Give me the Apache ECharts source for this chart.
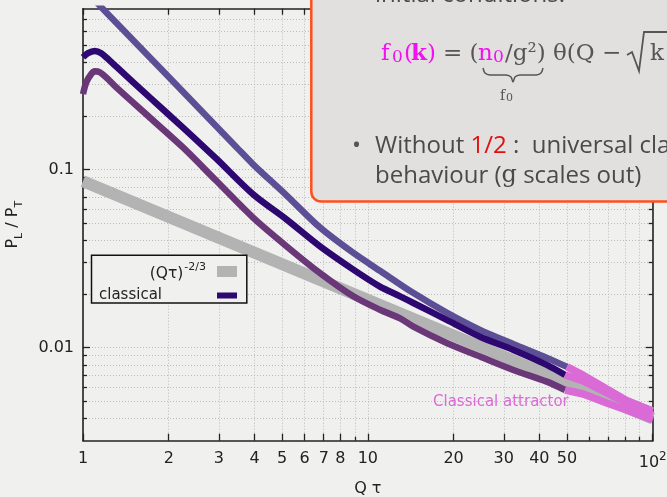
<!DOCTYPE html>
<html><head><meta charset="utf-8">
<script src="https://cdn.jsdelivr.net/npm/echarts@6/dist/echarts.min.js"></script>
<style>html,body{margin:0;padding:0;background:#f0f0ef;overflow:hidden}#c{width:667px;height:497px}</style>
</head><body><div id="c"></div>
<script>
// ---- axis ticks / labels ----
const xMajorTicks = [1, 2, 3, 4, 5, 6, 7, 8, 10, 20, 30, 40, 50, 100];
const xMinorTicks = [9, 60, 70, 80, 90];
const xTickLabels = [1, 2, 3, 4, 5, 6, 7, 8, 10, 20, 30, 40, 50, 100];
const yMajorTicks = [0.01, 0.1];
const yMinorTicks = [0.004, 0.005, 0.006, 0.007, 0.008, 0.009,
  0.02, 0.03, 0.04, 0.05, 0.06, 0.07, 0.08, 0.09,
  0.2, 0.3, 0.4, 0.5, 0.6, 0.7];
const yTickLabels = [0.01, 0.1];

// ---- series data ----
const powerLawX = [1, 100];
const powerLawY = [0.086, 0.0040];

const upperX = [1.102, 1.175, 2.016, 3.465, 3.954, 5.191, 6.795, 8.872, 11.03, 14.41, 18.97, 24.77, 32.35, 42.57, 50.05];
const upperY = [0.889, 0.798, 0.327, 0.133, 0.107, 0.0714, 0.0472, 0.0341, 0.0270, 0.0203, 0.01568, 0.01258, 0.01049, 0.00875, 0.00779];

const classicalX = [1, 1.041, 1.099, 1.159, 1.241, 1.309, 1.715, 2.244, 2.938, 3.954, 5.191, 6.795, 8.894, 11.03, 12.98, 14.45, 18.92, 24.77, 32.43, 42.47, 49.25];
const classicalY = [0.427, 0.450, 0.463, 0.450, 0.409, 0.378, 0.254, 0.172, 0.115, 0.0726, 0.0523, 0.0370, 0.0274, 0.0220, 0.0194, 0.0178, 0.0143, 0.0115, 0.0097, 0.0080, 0.00702];

const lowerX = [1, 1.027, 1.069, 1.099, 1.145, 1.224, 1.309, 1.715, 2.244, 2.938, 3.963, 5.191, 6.795, 8.894, 11.03, 12.98, 14.45, 18.92, 24.77, 32.43, 42.47, 49.25];
const lowerY = [0.265, 0.309, 0.344, 0.356, 0.352, 0.322, 0.289, 0.196, 0.133, 0.0864, 0.0535, 0.0370, 0.0262, 0.0194, 0.0163, 0.0146, 0.0131, 0.0106, 0.0089, 0.00749, 0.00644, 0.00578];

const attractorUpperX = [50.05, 57, 69, 81, 100];
const attractorUpperY = [0.00779, 0.00700, 0.00585, 0.00505, 0.00440];
const attractorMidX = [49.25, 57, 69, 81, 100];
const attractorMidY = [0.00702, 0.00649, 0.00556, 0.00489, 0.00418];
const attractorLowX = [49.25, 57, 69, 81, 100];
const attractorLowY = [0.00578, 0.00549, 0.00489, 0.00446, 0.00392];

const zip = (xs, ys) => xs.map((x, i) => [x, ys[i]]);

const FONT = 'DejaVu Sans';
const AX = '#222';
const GRID = { show: true, lineStyle: { color: '#bcbcbc', width: 1, type: [1, 2] } };

function xAx(pos, ticks, len, opts) {
  return Object.assign({
    type: 'log', logBase: 10, min: 1, max: 100, position: pos,
    axisLine: { show: false },
    axisTick: { show: true, inside: true, length: len, customValues: ticks, lineStyle: { color: AX, width: 1.3 } },
    axisLabel: { show: false },
    splitLine: { show: false },
    minorTick: { show: false }, minorSplitLine: { show: false }
  }, opts || {});
}
function yAx(pos, ticks, len, opts) {
  return Object.assign({
    type: 'log', logBase: 10, min: 0.003, max: 0.8, position: pos,
    axisLine: { show: false },
    axisTick: { show: true, inside: true, length: len, customValues: ticks, lineStyle: { color: AX, width: 1.3 } },
    axisLabel: { show: false },
    splitLine: { show: false },
    minorTick: { show: false }, minorSplitLine: { show: false }
  }, opts || {});
}

const chart = echarts.init(document.getElementById('c'), null, { renderer: 'canvas' });

const MAG = '#f010f0';
const GR = '#555';
const T = (x, y, text, fill, font, extra) => ({ type: 'text', z: 21, x: x, y: y,
  style: Object.assign({ text: text, fill: fill, font: font, verticalAlign: 'middle' }, extra || {}) });

const option = {
  backgroundColor: '#f0f0ef',
  animation: false,
  grid: { left: 83, right: 14.3, top: 8.7, bottom: 56.3, show: false, containLabel: false, outerBoundsMode: 'none' },
  xAxis: [
    xAx('bottom', xMajorTicks, 7, {
      axisLine: { show: true, onZero: false, lineStyle: { color: AX, width: 1.6 } },
      axisLabel: {
        show: true, customValues: xTickLabels, margin: 10.5, fontFamily: FONT, fontSize: 16, color: AX,
        formatter: v => Math.round(v) === 100 ? '{n|10}{s|2}' : String(Math.round(v)),
        rich: { n: { fontFamily: FONT, fontSize: 16, color: AX, lineHeight: 20, verticalAlign: 'bottom' },
                s: { fontFamily: FONT, fontSize: 12, color: AX, lineHeight: 10, verticalAlign: 'top' } }
      },
      splitLine: GRID,
      name: 'Q τ', nameLocation: 'middle', nameGap: 40,
      nameTextStyle: { fontFamily: FONT, fontSize: 16, color: AX }
    }),
    xAx('bottom', xMinorTicks, 4, { splitLine: GRID }),
    xAx('top', xMajorTicks, 6, { axisLine: { show: true, onZero: false, lineStyle: { color: AX, width: 1.6 } } }),
    xAx('top', xMinorTicks, 4)
  ],
  yAxis: [
    yAx('left', yMajorTicks, 7, {
      axisLine: { show: true, onZero: false, lineStyle: { color: AX, width: 1.6 } },
      axisLabel: {
        show: true, customValues: yTickLabels, margin: 9, fontFamily: FONT, fontSize: 16, color: AX,
        formatter: v => (v > 0.05 ? '0.1' : '0.01')
      },
      splitLine: GRID,
      name: '{a|P}{s|L}{a| / P}{s|T}', nameLocation: 'middle', nameRotate: 90, nameGap: 58,
      nameTextStyle: {
        rich: { a: { fontFamily: FONT, fontSize: 16, color: AX, lineHeight: 20, verticalAlign: 'top' },
                s: { fontFamily: FONT, fontSize: 11, color: AX, lineHeight: 10, verticalAlign: 'bottom' } }
      }
    }),
    yAx('left', yMinorTicks, 4, { splitLine: GRID }),
    yAx('right', yMajorTicks, 7, { axisLine: { show: true, onZero: false, lineStyle: { color: AX, width: 1.6 } } }),
    yAx('right', yMinorTicks, 4)
  ],
  legend: [
    {
      data: ['(Qτ)^-2/3'], right: 430, top: 261.5, orient: 'vertical', align: 'right',
      itemWidth: 20, itemHeight: 11, padding: 0, selectedMode: false, z: 6,
      icon: 'rect',
      formatter: () => '{b|(Qτ)}{s|-2/3}',
      textStyle: {
        rich: { b: { fontFamily: FONT, fontSize: 15.5, color: AX, lineHeight: 20, verticalAlign: 'bottom' },
                s: { fontFamily: FONT, fontSize: 11, color: AX, lineHeight: 10, verticalAlign: 'top', padding: [0, 6, 0, 1] } }
      }
    },
    {
      data: ['classical'], right: 430, top: 288, orient: 'vertical', align: 'right',
      itemWidth: 20, itemHeight: 6, padding: 0, selectedMode: false, z: 6,
      icon: 'rect',
      formatter: n => '{c|' + n + '}',
      textStyle: {
        rich: { c: { fontFamily: FONT, fontSize: 15, color: AX, width: 113, align: 'left' } }
      }
    }
  ],
  series: [
    { name: '(Qτ)^-2/3', type: 'line', data: zip(powerLawX, powerLawY), showSymbol: false, symbol: 'none',
      lineStyle: { color: '#b3b3b3', width: 12 }, itemStyle: { color: '#b3b3b3' }, z: 2 },
    { name: 'upper', type: 'line', data: zip(upperX, upperY), showSymbol: false, symbol: 'none', smooth: 0.3,
      lineStyle: { color: '#5d4f95', width: 6.5 }, z: 3 },
    { name: 'lower', type: 'line', data: zip(lowerX, lowerY), showSymbol: false, symbol: 'none', smooth: 0.3,
      lineStyle: { color: '#6a3878', width: 6.5 }, z: 3 },
    { name: 'classical', type: 'line', data: zip(classicalX, classicalY), showSymbol: false, symbol: 'none', smooth: 0.3,
      lineStyle: { color: '#2c0870', width: 6.5 }, itemStyle: { color: '#2c0870' }, z: 4 },
    { name: 'attractor upper', type: 'line', data: zip(attractorUpperX, attractorUpperY), showSymbol: false, symbol: 'none',
      lineStyle: { color: '#da6ad6', width: 7.5 }, z: 5 },
    { name: 'attractor mid', type: 'line', data: zip(attractorMidX, attractorMidY), showSymbol: false, symbol: 'none',
      lineStyle: { color: '#da6ad6', width: 7.5 }, z: 5 },
    { name: 'attractor low', type: 'line', data: zip(attractorLowX, attractorLowY), showSymbol: false, symbol: 'none',
      lineStyle: { color: '#da6ad6', width: 7.5 }, z: 5 }
  ],
  graphic: [
    // legend frame
    { type: 'rect', z: 5, shape: { x: 91.5, y: 255.3, width: 155.3, height: 47.7 },
      style: { fill: '#f0f0ef', stroke: '#111', lineWidth: 1.5 } },
    // annotation
    { type: 'text', z: 6, x: 433, y: 402,
      style: { text: 'Classical attractor', fill: '#da6ad6', font: '15px "DejaVu Sans"', verticalAlign: 'middle' } },
    // overlay box
    { type: 'rect', z: 20, shape: { x: 311.3, y: -30, width: 420, height: 231.5, r: 10 },
      style: { fill: '#e1e0df', stroke: '#ff4f1c', lineWidth: 2.5 } },
    T(375, -5, 'initial conditions:', '#4a4a4a', '24px "Open Sans"'),
    T(381, 54, 'f', MAG, '23px "DejaVu Serif"'),
    T(392, 58, '0', MAG, '17px "DejaVu Serif"'),
    T(404, 54, '(', MAG, '23px "DejaVu Serif"'),
    T(411, 54, 'k', MAG, 'bold 23px "DejaVu Serif"'),
    T(427, 54, ')', MAG, '23px "DejaVu Serif"'),
    T(443, 54, '= (', GR, '23px "DejaVu Serif"'),
    T(478, 54, 'n', MAG, '23px "DejaVu Serif"'),
    T(493, 58, '0', MAG, '17px "DejaVu Serif"'),
    T(505, 54, '/g²) θ(Q −', GR, '23px "DejaVu Serif"'),
    { type: 'polyline', z: 21, shape: { points: [[627, 55], [632, 52], [639, 71], [644, 32], [667, 32]] },
      style: { fill: null, stroke: GR, lineWidth: 1.8 } },
    T(650, 54, 'k', GR, '23px "DejaVu Serif"'),
    { type: 'polyline', z: 21, shape: { smooth: 0.3, points: [[483, 68], [485, 73], [490, 75], [506, 75], [511, 77], [513, 82], [515, 77], [520, 75], [536, 75], [541, 73], [543, 68]] },
      style: { fill: null, stroke: GR, lineWidth: 1.5 } },
    T(500, 96, 'f', GR, '14px "DejaVu Serif"'),
    T(506, 98, '0', GR, '11px "DejaVu Serif"'),
    T(352, 146, '•', GR, '24px "Open Sans"'),
    { type: 'text', z: 21, x: 375, y: 146,
      style: {
        text: '{a|Without }{r|1/2}{a| :  universal classical}', verticalAlign: 'middle',
        rich: { a: { fill: '#4a4a4a', font: '24px "Open Sans"' }, r: { fill: '#e01010', font: '24px "Open Sans"' } }
      } },
    { type: 'text', z: 21, x: 375, y: 176,
      style: {
        text: '{a|behaviour (}{g|g}{a| scales out)}', verticalAlign: 'middle',
        rich: { a: { fill: '#4a4a4a', font: '24px "Open Sans"' }, g: { fill: '#4a4a4a', font: '24px "DejaVu Serif"' } }
      } }
  ]
};
chart.setOption(option);
</script>
</body></html>
